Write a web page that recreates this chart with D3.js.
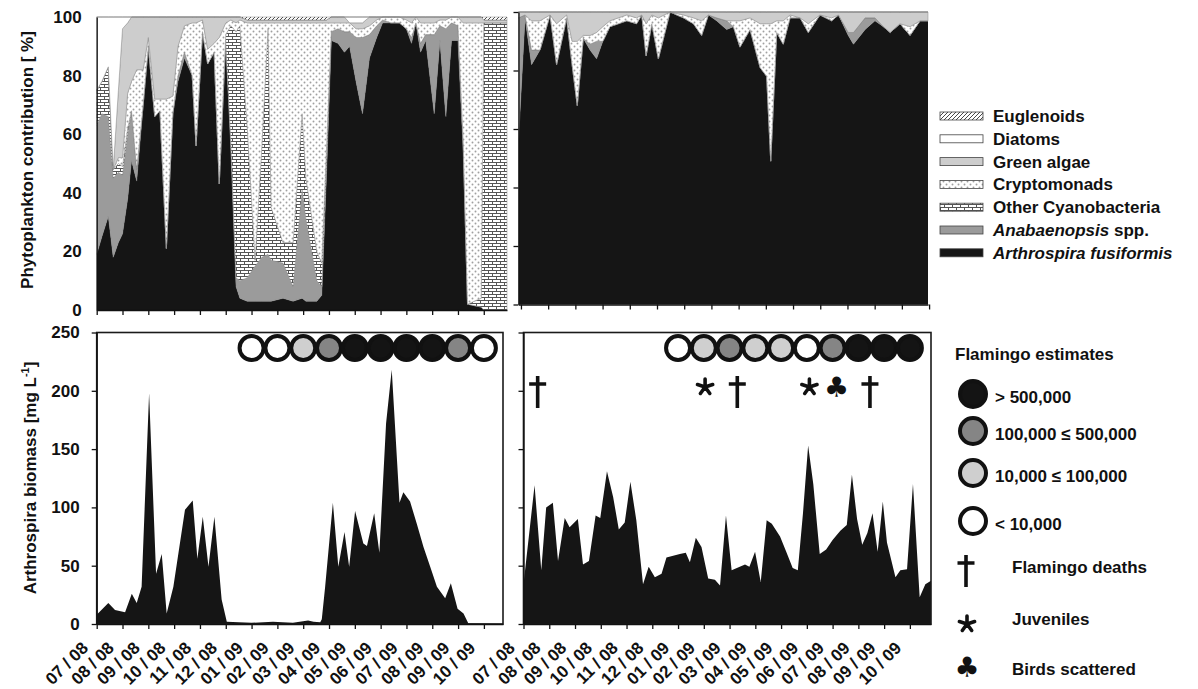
<!DOCTYPE html>
<html lang="en">
<head>
<meta charset="UTF-8">
<script src="https://cdn.jsdelivr.net/npm/d3@7"></script>
<style>
body{margin:0;background:#fff;}
svg{display:block;}
</style>
</head>
<body>
<svg width="1198" height="689"></svg>
<script>
// ---------- data ----------
const monthLabels = ["07 / 08","08 / 08","09 / 08","10 / 08","11 / 08","12 / 08","01 / 09","02 / 09",
                     "03 / 09","04 / 09","05 / 09","06 / 09","07 / 09","08 / 09","09 / 09","10 / 09"];

// stacked phytoplankton shares (%), left site, time in months since 07/08
const tlTime   = [0,0.2,0.45,0.64,0.84, 1.0,1.2,1.35,1.55,1.8, 2.0,2.25,2.45,2.7,2.95, 3.15,3.4,3.7,3.85,4.1,
                  4.3,4.55,4.75,5.0,5.2, 5.4,5.55,5.83,6.14,6.4, 6.64,6.76,7.22,7.61,7.96, 8.11,8.53,8.72,8.9,9.09,
                  9.35,9.6,9.8,10.05,10.3, 10.57,10.85,11.08,11.4,11.73, 12.0,12.2,12.37,12.55,12.75,
                  13.08,13.3,13.53,13.75,14.0, 14.2,14.37,14.9,15.0,15.9];
const tlArthro = [19,25,32,18,23, 26,38,51,44,70, 90,66,68,21,67, 78,86,80,56,95, 84,88,43,92,55, 8,4,3,3,3,
                  3,3,4,3,4, 3,3,5,45,92, 91,88,90,78,67, 86,93,98,98,98, 96,91,98,88,92, 67,92,66,92,92, 55,2,1,0,0];
const tlAnab   = [44,42,34,27,24, 20,22,17,4,0, 0,0,0,0,0, 2,2,0,0,0, 0,0,0,0,2, 3,6,8,12,15,
                  16,14,12,5,37, 28,7,3,4,3, 5,7,5,15,26, 8,4,1,0,0, 0,2,0,3,2, 27,5,30,6,5, 3,0,0,0,0];
const tlCyano  = [12,11,17,3,3, 3,2,0,0,0, 0,0,0,0,0, 0,0,0,0,0, 0,0,0,2,40, 84,87,52,2,38,
                  77,18,7,15,26, 14,10,8,5,0, 0,0,0,0,0, 0,0,0,0,0, 0,0,0,0,0, 0,0,0,0,0, 0,0,3,98,98];
const tlCrypto = [0,0,0,0,2, 3,12,10,34,12, 3,6,4,51,6, 10,9,18,42,4, 5,3,50,4,2, 3,2,35,81,42,
                  2,63,75,75,31, 53,78,82,44,3, 2,3,3,3,3, 3,2,1,2,2, 3,5,2,7,4, 4,2,3,2,3, 40,96,94,0,0];
const tlGreen  = [0,0,0,0,23, 44,24,22,18,18, 7,28,28,28,27, 10,3,2,2,1, 11,9,7,2,1, 2,1,1,1,1,
                  1,1,1,1,1, 1,1,1,1,2, 2,2,0,2,2, 3,1,0,0,0, 1,2,0,2,2, 2,1,1,0,0, 2,2,2,1,1];
const tlDiatom = [25,22,17,52,25, 4,2,0,0,0, 0,0,0,0,0, 0,0,0,0,0, 0,0,0,0,0, 0,0,0,0,0,
                  0,0,0,0,0, 0,0,0,0,0, 0,0,2,2,2, 0,0,0,0,0, 0,0,0,0,0, 0,0,0,0,0, 0,0,0,0,0];
const tlEugl   = [0,0,0,0,0, 0,0,0,0,0, 0,0,0,0,0, 0,0,0,0,0, 0,0,0,0,0, 0,0,1,1,1,
                  1,1,1,1,1, 1,1,1,1,0, 0,0,0,0,0, 0,0,0,0,0, 0,0,0,0,0, 0,0,0,0,0, 0,0,0,1,1];

// stacked phytoplankton shares (%), right site
const trTime   = [-0.09,0.15,0.39,0.70,1.07, 1.31,1.68,1.88,2.07,2.29, 2.54,2.78,3.01,3.27,3.89,
                  4.25,4.44,4.60,4.81,5.05, 5.48,5.97,6.34,6.64,6.89, 7.19,7.56,7.81,8.05,8.42,
                  8.79,9.03,9.18,9.40,9.64, 9.89,10.26,10.56,10.99,11.42, 11.67,12.03,12.22,12.65,13.01,
                  13.32,13.57,13.93,14.30,14.67, 14.96];
const trArthro = [56,98,82,87,99, 82,98,82,68,91, 87,84,90,95,97, 96,99,85,96,84, 100,98,96,92,99,
                  97,94,95,88,94, 81,78,49,93,89, 98,98,93,99,97, 99,92,89,94,97, 95,93,96,92,97, 97];
const trAnab   = [42,1,5,0,0, 0,0,0,0,0, 2,6,0,0,0, 0,0,0,0,0, 0,0,0,0,0,
                  1,3,0,0,0, 0,0,0,0,0, 0,0,0,0,0, 0,1,4,4,1, 0,0,0,0,0, 0];
const trCrypto = [0,0,10,10,0, 14,1,8,22,1, 3,3,5,2,2, 2,0,11,3,14, 0,1,2,5,0,
                  0,0,2,9,4, 15,18,47,4,8, 1,0,3,0,1, 0,0,0,0,0, 0,0,0,3,0, 0];
const trGreen  = [2,1,3,3,1, 4,1,10,10,8, 8,7,5,3,1, 2,1,4,1,2, 0,1,2,3,1,
                  2,3,3,3,2, 4,4,4,3,3, 1,2,4,1,2, 1,7,7,2,2, 5,7,4,5,3, 3];

// Arthrospira biomass (mg/L)
const blTime    = [0,0.45,0.71,1.10,1.36, 1.55,1.74,2.03,2.30,2.52, 2.71,2.97,3.42,3.72,3.90,
                   4.11,4.33,4.56,4.84,5.04, 5.5,6.0,6.83,7.2,7.6, 8.19,8.4,8.66,8.72,8.85,
                   9.15,9.36,9.60,9.78,10.01, 10.33,10.47,10.75,10.95,11.21, 11.43,11.73,11.88,12.14,12.40,
                   12.66,12.92,13.18,13.50,13.72, 13.98,14.21,14.40,15.74];
const blBiomass = [8,18,12,10,26, 18,32,198,43,60, 9,32,98,106,56, 92,49,92,21,2, 1.5,1,2,1.5,1,
                   3,2,1.5,4,32, 104,49,79,49,97, 69,67,95,61,172, 218,104,113,105,86, 66,49,32,22,35, 13,9,0.5,0];
const brTime    = [0,0.43,0.69,0.88,1.14, 1.34,1.60,1.79,2.11,2.31, 2.54,2.80,2.98,3.24,3.48,
                   3.70,3.93,4.15,4.38,4.64, 4.86,5.10,5.36,5.55,6.07, 6.30,6.46,6.69,6.91,7.17,
                   7.43,7.63,7.86,8.08,8.60, 8.77,8.99,9.21,9.44,9.64, 9.96,10.2,10.45,10.65,10.85,
                   11.05,11.25,11.5,11.75,12.0, 12.3,12.55,12.75,12.95,13.15, 13.35,13.55,13.75,13.95,14.11,
                   14.44,14.63,14.89,15.12,15.38, 15.60,15.82];
const brBiomass = [34,119,46,100,104, 54,91,83,90,51, 54,93,91,131,109, 81,87,122,89,34, 49,40,43,57,60,
                   61,53,74,66,39, 38,33,93,46,51, 49,62,36,89,86, 75,62,48,46,95, 153,120,60,64,72,
                   80,85,128,90,68, 78,95,62,105,70, 40,46,47,120,23, 34,37];

// flamingo estimates per month (class 0: <10,000 ... 3: >500,000)
const blFlamMonth = [6,7,8,9,10,11,12,13,14,15];
const blFlamClass = [0,0,1,2,3,3,3,3,2,0];
const brFlamMonth = [6,7,8,9,10,11,12,13,14,15];
const brFlamClass = [0,1,2,1,1,0,2,3,3,3];
// events at the right site: month and kind
const brEventMonth = [0.55,7.05,8.3,11.1,12.15,13.45];
const brEventKind  = ["death","juvenile","death","juvenile","scattered","death"];

const flamLabels = ["< 10,000","10,000 \u2264 100,000","100,000 \u2264 500,000","> 500,000"];

// ---------- drawing ----------
const FONT = "'Liberation Sans', Arial, Helvetica, sans-serif";
const svg = d3.select("svg").attr("font-family", FONT).attr("font-weight", "bold");
const defs = svg.append("defs");

const dots = defs.append("pattern").attr("id", "dots").attr("patternUnits", "userSpaceOnUse")
  .attr("width", 6).attr("height", 6);
dots.append("rect").attr("width", 6).attr("height", 6).attr("fill", "#fff");
dots.append("circle").attr("cx", 1.5).attr("cy", 1.5).attr("r", 0.95).attr("fill", "#a0a0a0");
dots.append("circle").attr("cx", 4.5).attr("cy", 4.5).attr("r", 0.95).attr("fill", "#a0a0a0");

const bricks = defs.append("pattern").attr("id", "bricks").attr("patternUnits", "userSpaceOnUse")
  .attr("width", 8).attr("height", 6);
bricks.append("rect").attr("width", 8).attr("height", 6).attr("fill", "#fff");
bricks.append("path").attr("d", "M0,0.5H8M0,3.5H8M0.5,0.5V3.5M4.5,3.5V6")
  .attr("stroke", "#555").attr("stroke-width", 1).attr("fill", "none");

const hatch = defs.append("pattern").attr("id", "hatch").attr("patternUnits", "userSpaceOnUse")
  .attr("width", 4).attr("height", 4);
hatch.append("rect").attr("width", 4).attr("height", 4).attr("fill", "#fff");
hatch.append("path").attr("d", "M-1,1L1,-1M0,4L4,0M3,5L5,3")
  .attr("stroke", "#333").attr("stroke-width", 0.9);

const layerKeys  = ["arthro","anab","cyano","crypto","green","diatom","eugl"];
const layerFill  = {arthro:"#151515", anab:"#9b9b9b", cyano:"url(#bricks)", crypto:"url(#dots)",
                    green:"#cdcdcd", diatom:"#fff", eugl:"url(#hatch)"};
const flamFill = ["#fff", "#cfcfcf", "#858585", "#141414"];

function styleAxis(g) {
  g.attr("font-family", FONT).attr("font-size", 17).attr("font-weight", "bold");
  g.selectAll("path,line").attr("stroke", "#111").attr("stroke-width", 1.3);
  g.selectAll("text").attr("fill", "#111");
}

function stackedPanel(rows, x, y, ticks) {
  const g = svg.append("g");
  const series = d3.stack().keys(layerKeys).value((d, k) => d[k] || 0)(rows);
  const area = d3.area().x(d => x(d.data.t)).y0(d => y(d[0])).y1(d => y(d[1]));
  g.selectAll("path.layer").data(series).join("path")
    .attr("class", "layer")
    .attr("d", area)
    .attr("fill", s => layerFill[s.key])
    .attr("stroke", s => s.key === "arthro" ? "none" : "#8a8a8a")
    .attr("stroke-width", 0.5);
  const ax = g.append("g").attr("transform", `translate(0,${y(0)})`)
    .call(d3.axisBottom(x).tickValues(ticks).tickSize(5).tickSizeOuter(0).tickFormat(""));
  styleAxis(ax);
  return g;
}

// top left
const xTL = d3.scaleLinear().domain([0, 15.9]).range([96.7, 507]);
const yTL = d3.scaleLinear().domain([0, 100]).range([310, 17]);
const tlRows = tlTime.map((t, i) => ({t, arthro: tlArthro[i], anab: tlAnab[i], cyano: tlCyano[i],
  crypto: tlCrypto[i], green: tlGreen[i], diatom: tlDiatom[i], eugl: tlEugl[i]}));
stackedPanel(tlRows, xTL, yTL, d3.range(16));
const tlY = svg.append("g").attr("transform", `translate(${xTL(0)},0)`)
  .call(d3.axisLeft(yTL).tickValues(d3.range(0, 101, 20)).tickSize(0).tickPadding(15));
styleAxis(tlY);

// top right
const xTR = d3.scaleLinear().domain([-0.09, 14.96]).range([518.5, 928]);
const yTR = d3.scaleLinear().domain([0, 100]).range([304.5, 12]);
const trRows = trTime.map((t, i) => ({t, arthro: trArthro[i], anab: trAnab[i], crypto: trCrypto[i], green: trGreen[i]}));
stackedPanel(trRows, xTR, yTR, d3.range(16));
const trY = svg.append("g").attr("transform", `translate(${xTR(-0.09)},0)`)
  .call(d3.axisLeft(yTR).tickValues(d3.range(0, 101, 20)).tickSize(5).tickSizeOuter(0).tickFormat(""));
styleAxis(trY);

// biomass panels
function biomassPanel(time, values, x, y, flamMonth, flamClass, showLabels) {
  const g = svg.append("g");
  const pts = time.map((t, i) => ({t, v: values[i]}));
  g.append("path").datum(pts)
    .attr("d", d3.area().x(d => x(d.t)).y0(y(0)).y1(d => y(d.v)))
    .attr("fill", "#151515");
  g.append("rect")
    .attr("x", x.range()[0]).attr("y", y(250))
    .attr("width", x.range()[1] - x.range()[0]).attr("height", y(0) - y(250))
    .attr("fill", "none").attr("stroke", "#1a1a1a").attr("stroke-width", 1.6);
  const ax = g.append("g").attr("transform", `translate(0,${y(0)})`)
    .call(d3.axisBottom(x).tickValues(d3.range(16)).tickSize(5).tickSizeOuter(0)
      .tickFormat((d, i) => monthLabels[i]));
  styleAxis(ax);
  ax.selectAll("text")
    .attr("x", 0).attr("y", 0).attr("dy", 0)
    .attr("text-anchor", "end")
    .attr("transform", "translate(-8,25) rotate(-45)");
  const ay = g.append("g").attr("transform", `translate(${x.range()[0]},0)`)
    .call(d3.axisLeft(y).tickValues(d3.range(0, 251, 50)).tickSize(5).tickSizeOuter(0).tickPadding(12)
      .tickFormat(showLabels ? d3.format("d") : ""));
  styleAxis(ay);
  g.selectAll("circle.flam").data(flamMonth).join("circle")
    .attr("class", "flam")
    .attr("cx", d => x(d)).attr("cy", 348).attr("r", 12)
    .attr("fill", (d, i) => flamFill[flamClass[i]])
    .attr("stroke", "#111").attr("stroke-width", 4);
  return g;
}

const xBL = d3.scaleLinear().domain([0, 15.74]).range([96.7, 503]);
const yB  = d3.scaleLinear().domain([0, 250]).range([624, 332.5]);
biomassPanel(blTime, blBiomass, xBL, yB, blFlamMonth, blFlamClass, true);

const xBR = d3.scaleLinear().domain([0, 15.82]).range([523.5, 931]);
biomassPanel(brTime, brBiomass, xBR, yB, brFlamMonth, brFlamClass, false);

// event symbols
function symbol(g, kind, cx, cy) {
  if (kind === "death") {
    g.append("path")
      .attr("d", `M${cx},${cy - 16}V${cy + 16}M${cx - 8.5},${cy - 8}H${cx + 8.5}`)
      .attr("stroke", "#111").attr("stroke-width", 3.6).attr("fill", "none");
  } else if (kind === "juvenile") {
    // five-armed asterisk
    const arms = d3.range(5).map(k => {
      const a = -Math.PI / 2 + k * 2 * Math.PI / 5;
      return `M${cx},${cy}L${cx + 8 * Math.cos(a)},${cy + 8 * Math.sin(a)}`;
    }).join("");
    g.append("path").attr("d", arms)
      .attr("stroke", "#111").attr("stroke-width", 3.6).attr("stroke-linecap", "round");
  } else {
    g.append("text").attr("x", cx).attr("y", cy + 10).attr("text-anchor", "middle")
      .attr("font-family", "'DejaVu Sans', sans-serif").attr("font-size", 28)
      .attr("fill", "#111").text("\u2663");
  }
}
const evG = svg.append("g");
brEventMonth.forEach((m, i) => symbol(evG, brEventKind[i], xBR(m), brEventKind[i] === "death" ? 392 : 387));

// axis titles
svg.append("text").attr("transform", "translate(33,160) rotate(-90)")
  .attr("text-anchor", "middle").attr("font-size", 17).attr("fill", "#111")
  .text("Phytoplankton contribution [ %]");
const bt = svg.append("text").attr("transform", "translate(36,478) rotate(-90)")
  .attr("text-anchor", "middle").attr("font-size", 17).attr("fill", "#111");
bt.append("tspan").text("Arthrospira biomass [mg L");
bt.append("tspan").attr("font-size", 11).attr("dy", -7).text("-1");
bt.append("tspan").attr("dy", 7).text("]");

// phytoplankton legend
const legendRows = [
  {key: "eugl", parts: [["Euglenoids", false]]},
  {key: "diatom", parts: [["Diatoms", false]]},
  {key: "green", parts: [["Green algae", false]]},
  {key: "crypto", parts: [["Cryptomonads", false]]},
  {key: "cyano", parts: [["Other Cyanobacteria", false]]},
  {key: "anab", parts: [["Anabaenopsis", true], [" spp.", false]]},
  {key: "arthro", parts: [["Arthrospira fusiformis", true]]}
];
const lg = svg.append("g");
legendRows.forEach((r, i) => {
  const cy = 116 + i * 22.8;
  lg.append("rect").attr("x", 940).attr("y", cy - 4).attr("width", 43).attr("height", 8)
    .attr("fill", layerFill[r.key]).attr("stroke", "#444").attr("stroke-width", 0.8);
  const t = lg.append("text").attr("x", 993).attr("y", cy + 6).attr("font-size", 17).attr("fill", "#111");
  r.parts.forEach(p => t.append("tspan").attr("font-style", p[1] ? "italic" : "normal").text(p[0]));
});

// flamingo legend
const fg = svg.append("g");
fg.append("text").attr("x", 955).attr("y", 360).attr("font-size", 17).attr("fill", "#111").text("Flamingo estimates");
const flamLegY = [521, 473, 431, 394];
[3, 2, 1, 0].forEach(c => {
  fg.append("circle").attr("cx", 973).attr("cy", flamLegY[c]).attr("r", 13)
    .attr("fill", flamFill[c]).attr("stroke", "#111").attr("stroke-width", 4);
  fg.append("text").attr("x", 995).attr("y", flamLegY[c] + 9).attr("font-size", 17).attr("fill", "#111")
    .text(flamLabels[c]);
});
symbol(fg, "death", 966, 571);
fg.append("text").attr("x", 1012).attr("y", 573).attr("font-size", 17).attr("fill", "#111").text("Flamingo deaths");
symbol(fg, "juvenile", 967, 624);
fg.append("text").attr("x", 1012).attr("y", 625).attr("font-size", 17).attr("fill", "#111").text("Juveniles");
symbol(fg, "scattered", 967, 667);
fg.append("text").attr("x", 1012).attr("y", 675).attr("font-size", 17).attr("fill", "#111").text("Birds scattered");
</script>
</body>
</html>
